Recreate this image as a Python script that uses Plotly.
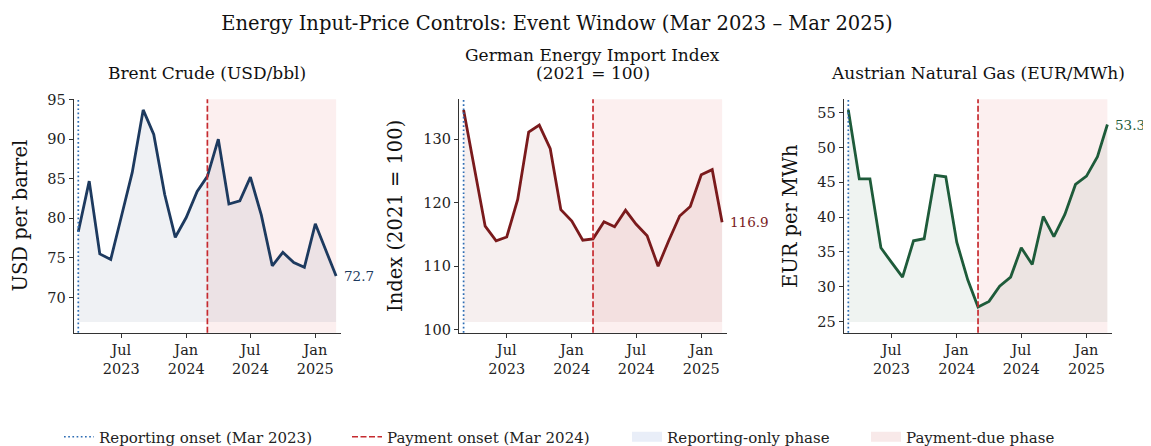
import numpy as np
import pandas as pd
import plotly.graph_objects as go

# monthly observations, Mar 2023 .. Mar 2025
months = pd.date_range('2023-03-01', '2025-03-01', freq='MS')

brent = [78.3, 84.7, 75.5, 74.8, 80.2, 85.8, 93.7, 90.6, 83.0, 77.6, 80.1, 83.4,
         85.3, 90.0, 81.8, 82.2, 85.2, 80.4, 74.0, 75.7, 74.4, 73.8, 79.3, 75.8, 72.7]
german_index = [134.6, 125.5, 116.3, 114.0, 114.6, 120.5, 131.1, 132.2, 128.5, 118.9, 117.1, 114.1,
                114.3, 117.0, 116.2, 118.8, 116.6, 114.8, 110.0, 114.0, 117.9, 119.4, 124.4, 125.2, 116.9]
austrian_gas = [55.4, 45.5, 45.5, 35.6, 33.5, 31.4, 36.6, 36.9, 46.0, 45.8, 36.4, 31.0,
                27.1, 27.9, 30.1, 31.4, 35.6, 33.2, 40.1, 37.2, 40.4, 44.7, 45.9, 48.7, 53.3]

reporting_onset = '2023-03-01'
payment_onset = '2024-03-01'

tick_dates = ['2023-07-01', '2024-01-01', '2024-07-01', '2025-01-01']
tick_labels = ['Jul<br>2023', 'Jan<br>2024', 'Jul<br>2024', 'Jan<br>2025']

panel_titles = [['Brent Crude (USD/bbl)'],
                ['German Energy Import Index', '(2021 = 100)'],
                ['Austrian Natural Gas (EUR/MWh)']]
y_titles = ['USD per barrel', 'Index (2021 = 100)', 'EUR per MWh']
y_ticks = [[70, 75, 80, 85, 90, 95],
           [100, 110, 120, 130],
           [25, 30, 35, 40, 45, 50, 55]]

legend_names = ['Reporting onset (Mar 2023)', 'Payment onset (Mar 2024)',
                'Reporting-only phase', 'Payment-due phase']

FONT = 'DejaVu Serif'
# the page body has an 8px margin, so the figure is shrunk and shifted by it
PAGE_W, PAGE_H, BODY = 1151, 446, 8
W, H = PAGE_W - BODY, PAGE_H - BODY


def px(x):
    return (x - BODY) / W


def py(y):
    return 1 - (y - BODY) / H


line_colors = ['#1d3a5f', '#7a1a1c', '#1e5b3a']
fill_colors = ['rgba(29,58,95,0.07)', 'rgba(122,26,28,0.07)', 'rgba(30,91,58,0.07)']
blue_dot = '#2e6db4'
red_dash = '#c62a2f'
pay_fill = 'rgba(214,50,50,0.08)'
pay_patch = '#f8e9e9'
rep_patch = '#e9eef8'

# page-pixel boxes of the three axes (left, right), shared top/bottom
x_boxes = [(73.7, 340.7), (459.0, 726.7), (843.7, 1112.0)]
y_top, y_bot = 99.3, 332.7
ylab_x = [19.5, 395.0, 790.0]
legend_x = [59, 347, 627, 866]

fig = go.Figure()

series = [brent, german_index, austrian_gas]
for i, vals in enumerate(series):
    n = i + 1
    xa = 'x' if n == 1 else f'x{n}'
    ya = 'y' if n == 1 else f'y{n}'
    vals = np.array(vals)
    base = 0.92 * vals.min()

    fig.add_trace(go.Scatter(x=months, y=[base] * len(months), mode='lines',
                             line=dict(width=0), hoverinfo='skip',
                             showlegend=False, xaxis=xa, yaxis=ya))
    fig.add_trace(go.Scatter(x=months, y=vals, mode='lines',
                             line=dict(color=line_colors[i], width=2.8),
                             fill='tonexty', fillcolor=fill_colors[i],
                             showlegend=False, xaxis=xa, yaxis=ya))

    lo, hi = base, vals.max()
    pad = 0.05 * (hi - lo)

    fig.add_annotation(x=months[-1], y=vals[-1], xref=xa, yref=ya,
                       text=f'{vals[-1]:.1f}', showarrow=False,
                       xanchor='left', xshift=6,
                       font=dict(family=FONT, size=13.5, color=line_colors[i]))

    # phase shading and event lines
    fig.add_shape(type='rect', xref=xa, yref=f'{ya} domain',
                  x0=payment_onset, x1=months[-1], y0=0, y1=1,
                  fillcolor=pay_fill, line=dict(width=0), layer='below')
    fig.add_shape(type='line', xref=xa, yref=f'{ya} domain',
                  x0=reporting_onset, x1=reporting_onset, y0=0, y1=1,
                  line=dict(color=blue_dot, width=1.7, dash='1.7px,2.5px'))
    fig.add_shape(type='line', xref=xa, yref=f'{ya} domain',
                  x0=payment_onset, x1=payment_onset, y0=0, y1=1,
                  line=dict(color=red_dash, width=1.7, dash='6px,2.5px'))

    x0, x1 = x_boxes[i]
    axis_common = dict(showline=True, linecolor='#333333', linewidth=1.2,
                       ticks='outside', ticklen=4, tickwidth=1.1, tickcolor='#333333',
                       showgrid=False, zeroline=False,
                       tickfont=dict(family=FONT, size=14.5, color='#222222'))
    fig.update_layout({
        ('xaxis' if n == 1 else f'xaxis{n}'): dict(
            domain=[px(x0), px(x1)], anchor=ya, type='date',
            range=['2023-02-16', '2025-03-14'],
            tickmode='array', tickvals=tick_dates, ticktext=tick_labels,
            **axis_common),
        ('yaxis' if n == 1 else f'yaxis{n}'): dict(
            domain=[py(y_bot), py(y_top)], anchor=xa,
            range=[lo - pad, hi + pad],
            tickmode='array', tickvals=y_ticks[i],
            **axis_common),
    })

    # panel title, one annotation per line (tighter spacing than <br>)
    lines = panel_titles[i]
    for j, txt in enumerate(lines):
        line_y = 73 - 17.5 * (len(lines) - 1 - j)
        fig.add_annotation(x=px((x0 + x1) / 2), y=py(line_y), xref='paper', yref='paper',
                           text=txt, showarrow=False,
                           xanchor='center', yanchor='middle',
                           font=dict(family=FONT, size=17, color='#111111'))
    fig.add_annotation(x=px(ylab_x[i]), y=py((y_top + y_bot) / 2),
                       xref='paper', yref='paper', text=y_titles[i],
                       textangle=-90, showarrow=False,
                       xanchor='center', yanchor='middle',
                       font=dict(family=FONT, size=19.5, color='#111111'))

# legend-only entries, one legend box each so the spacing can follow the original
legend_lines = [dict(color=blue_dot, width=1.7, dash='1.7px,2.5px'),
                dict(color=red_dash, width=1.7, dash='6px,2.5px'),
                dict(color=rep_patch, width=10),
                dict(color=pay_patch, width=10)]
for k, name in enumerate(legend_names):
    lg = 'legend' if k == 0 else f'legend{k + 1}'
    fig.add_trace(go.Scatter(x=[None], y=[None], mode='lines', name=name,
                             line=legend_lines[k], legend=lg))
    fig.update_layout({lg: dict(orientation='h', x=px(legend_x[k]), xanchor='left',
                                y=py(437), yanchor='middle',
                                font=dict(family=FONT, size=15, color='#222222'),
                                itemwidth=30, bgcolor='rgba(0,0,0,0)')})

fig.update_layout(
    width=W, height=H,
    margin=dict(l=0, r=0, t=0, b=0, autoexpand=False),
    plot_bgcolor='white', paper_bgcolor='white',
    title=dict(text='Energy Input-Price Controls: Event Window (Mar 2023 \u2013 Mar 2025)',
               x=px(557), xanchor='center', y=py(23), yanchor='middle',
               font=dict(family=FONT, size=19.5, color='#111111')),
    font=dict(family=FONT),
)

fig.write_html('out.html')
